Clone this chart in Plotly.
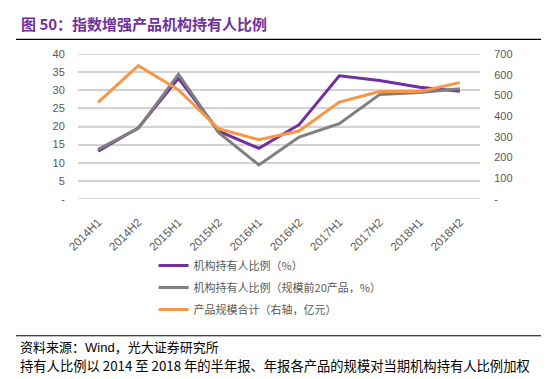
import plotly.graph_objects as go

categories = ["2014H1", "2014H2", "2015H1", "2015H2", "2016H1",
              "2016H2", "2017H1", "2017H2", "2018H1", "2018H2"]
inst_ratio = [13.2, 19.6, 33.3, 18.7, 14.0, 20.5, 34.0, 32.7, 30.8, 29.7]
inst_ratio_top20 = [13.7, 19.5, 34.4, 18.3, 9.4, 17.1, 20.8, 28.8, 29.4, 30.4]
total_size = [466, 644, 527, 339, 286, 328, 468, 519, 519, 562]

left_ticks = [0, 5, 10, 15, 20, 25, 30, 35, 40]
left_text = ["-", "5", "10", "15", "20", "25", "30", "35", "40"]
right_ticks = [0, 100, 200, 300, 400, 500, 600, 700]
right_text = ["-", "100", "200", "300", "400", "500", "600", "700"]

PURPLE = "#7030A0"
GRAY = "#7F7F7F"
ORANGE = "#F79646"
GRID = "#D3D3D3"
FONT = "Noto Sans CJK SC"
TICKFONT = dict(size=11, color="#595959", family="Liberation Sans")

fig = go.Figure()
fig.add_trace(go.Scatter(x=categories, y=inst_ratio, mode="lines",
                         name="机构持有人比例（%）", legendgroup="a",
                         line=dict(color=PURPLE, width=3)))
fig.add_trace(go.Scatter(x=categories, y=inst_ratio_top20, mode="lines",
                         name="机构持有人比例（规模前20产品，%）", legendgroup="b",
                         line=dict(color=GRAY, width=3)))
fig.add_trace(go.Scatter(x=categories, y=total_size, mode="lines",
                         name="产品规模合计（右轴，亿元）", legendgroup="c",
                         line=dict(color=ORANGE, width=3), yaxis="y2"))

fig.update_layout(
    template="none",
    width=549, height=379,
    margin=dict(l=70, r=77, t=46, b=187.5, pad=0, autoexpand=False),
    paper_bgcolor="white", plot_bgcolor="rgba(0,0,0,0)",
    font=dict(family=FONT, color="#595959", size=10),
    xaxis=dict(tickangle=-45, showgrid=False, showline=False, zeroline=False,
               range=[-0.5, 9.5], automargin=False,
               ticks="outside", ticklen=11, tickcolor="rgba(0,0,0,0)",
               tickfont=dict(size=11.5, color="#595959", family="Liberation Sans")),
    yaxis=dict(range=[0, 40], tickvals=left_ticks, ticktext=left_text, automargin=False,
               showgrid=True, gridcolor=GRID, gridwidth=1.5, zeroline=False, showline=False,
               ticks="outside", ticklen=10, tickcolor="rgba(0,0,0,0)",
               tickfont=TICKFONT),
    yaxis2=dict(range=[0, 700], tickvals=right_ticks, ticktext=right_text, automargin=False,
                overlaying="y", side="right", showgrid=False, zeroline=False, showline=False,
                ticks="outside", ticklen=11, tickcolor="rgba(0,0,0,0)",
                tickfont=TICKFONT),
    showlegend=True,
    legend=dict(x=0.188, y=-0.358, xanchor="left", yanchor="top",
                font=dict(size=11, color="#595959", family=FONT),
                itemwidth=30, tracegroupgap=3, bgcolor="rgba(0,0,0,0)", borderwidth=0),
)

# horizontal gridlines at the left-axis ticks, placed through the y scale
for v in left_ticks:
    fig.add_shape(type="line", xref="paper", yref="y", x0=0, x1=1, y0=v, y1=v,
                  layer="below", line=dict(color=GRID, width=1.5))

def py(pix):
    return (191.5 - pix) / 145.8

def px(pix):
    return (pix - 70) / 402

# title
fig.add_annotation(xref="paper", yref="paper", x=px(11), y=py(15), xanchor="left", yanchor="middle",
                   text="<b>图 50：指数增强产品机构持有人比例</b>", showarrow=False,
                   font=dict(size=15, color=PURPLE, family=FONT))
# rules
fig.add_shape(type="line", xref="paper", yref="paper", x0=px(8), x1=px(539),
              y0=py(31), y1=py(31), line=dict(color="black", width=1.2))
fig.add_shape(type="line", xref="paper", yref="paper", x0=px(8), x1=px(539),
              y0=py(329), y1=py(329), line=dict(color="black", width=1.2))
# source notes
fig.add_annotation(xref="paper", yref="paper", x=px(10), y=py(339.5),
                   xanchor="left", yanchor="middle", showarrow=False,
                   text="资料来源：<span style='font-family:Liberation Sans'>Wind</span>，光大证券研究所",
                   font=dict(size=13, color="black", family=FONT))
fig.add_annotation(xref="paper", yref="paper", x=px(10), y=py(358.5),
                   xanchor="left", yanchor="middle", showarrow=False,
                   text="持有人比例以 2014 至 2018 年的半年报、年报各产品的规模对当期机构持有人比例加权",
                   font=dict(size=13.3, color="black", family=FONT))

fig.write_html("out.html")
